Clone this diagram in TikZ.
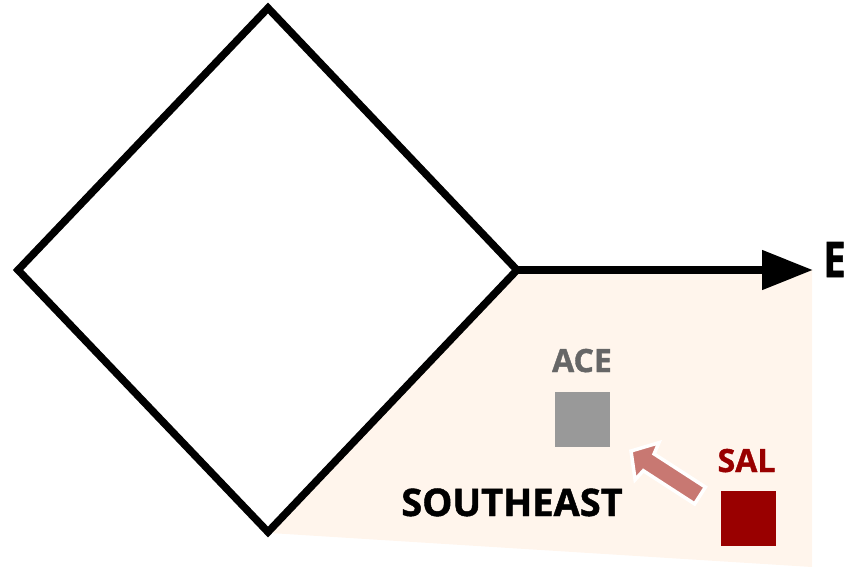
\documentclass[tikz,border=0pt]{standalone}
\usepackage{fontspec}
\setmainfont{Open Sans}[BoldFeatures={FakeBold=1.2}]
\usetikzlibrary{arrows.meta}
\definecolor{sepeach}{HTML}{FFF5EC}
\definecolor{acegray}{HTML}{999999}
\definecolor{acetext}{HTML}{666666}
\definecolor{salred}{HTML}{990000}
\definecolor{movepink}{HTML}{C87872}
\begin{document}
\begin{tikzpicture}[x=1pt,y=-1pt,
  lbl/.style={font=\bfseries\fontsize{32}{32}\selectfont,anchor=base},
  sq/.style={minimum size=55pt,inner sep=0pt,outer sep=0pt}]
\useasboundingbox (0,0) rectangle (851,568);
\fill[sepeach] (517,270)--(812,270)--(812,567)--(270,533)--cycle;
\draw[line width=7.5pt,line join=miter] (268,8)--(517,270)--(268,532)--(18,270)--cycle;
\coordinate (corner) at (517,270);
\node[font=\bfseries\fontsize{49}{49}\selectfont,anchor=base west,inner sep=0pt] (east) at (823,277) {\scalebox{0.82}[1]{E}};
\draw[line width=8pt,-{Triangle[length=51pt,width=38pt]}] (corner)--(813,270);
\node[font=\bfseries\fontsize{38}{38}\selectfont,anchor=base] (se) at (512,516) {SOUTHEAST};
% the two boxes
\node[sq,fill=acegray] (ace) at (582.5,419.5) {};
\node[lbl,text=acetext] (acelabel) at (582,372) {ACE};
\node[sq,fill=salred] (sal) at (748.5,518.5) {};
\node[lbl,text=salred] (sallabel) at (746.5,472) {SAL};
% move from SAL towards ACE
\filldraw[fill=movepink,draw=white,line width=3.5pt,line join=miter]
  (705.4,487.1)--(654.1,453.9)--(658.9,442.7)--(631,451)--(635.1,479.7)
  --(643.3,470.7)--(694.6,503.9)--cycle;
\end{tikzpicture}
\end{document}
